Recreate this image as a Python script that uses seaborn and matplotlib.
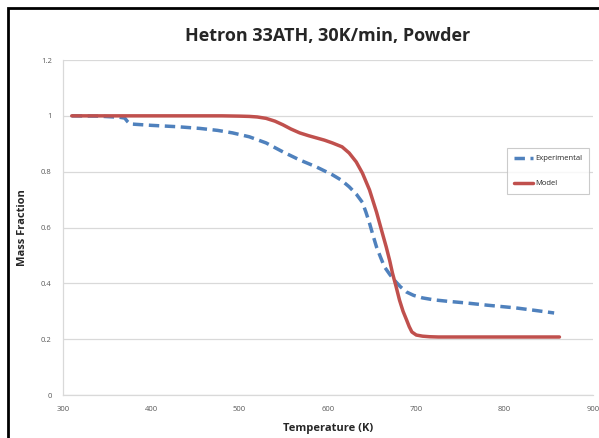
import pandas as pd
import numpy as np
import seaborn as sns
import matplotlib.pyplot as plt
from matplotlib.patches import Rectangle
from matplotlib.ticker import FuncFormatter

# values
exp_temp = [310, 340, 364, 370, 373, 376, 400, 430, 455, 475, 492, 511, 530, 549, 568,
            587, 605, 615, 624, 632, 639, 643, 647, 651, 655, 660, 664, 670, 675, 682,
            689, 697, 707, 720, 735, 749, 756, 780, 813, 835, 856]
exp_mass = [1.0, 0.999, 0.995, 0.992, 0.98, 0.971, 0.966, 0.961, 0.955, 0.948, 0.939,
            0.925, 0.903, 0.871, 0.842, 0.817, 0.789, 0.77, 0.746, 0.72, 0.69, 0.655,
            0.616, 0.572, 0.53, 0.49, 0.459, 0.432, 0.412, 0.388, 0.369, 0.357, 0.348,
            0.341, 0.336, 0.332, 0.33, 0.322, 0.312, 0.303, 0.294]

model_temp = [310, 400, 480, 500, 511, 520, 530, 540, 549, 558, 568, 578, 587, 596,
              605, 616, 624, 632, 639, 647, 655, 662, 666, 670, 673, 677, 681, 685,
              689, 692, 695, 700, 707, 715, 725, 800, 862]
model_mass = [1.0, 1.0, 1.0, 0.999, 0.998, 0.996, 0.991, 0.981, 0.968, 0.953, 0.939,
              0.929, 0.921, 0.913, 0.903, 0.889, 0.867, 0.835, 0.795, 0.735, 0.655,
              0.575, 0.53, 0.48, 0.437, 0.39, 0.34, 0.30, 0.269, 0.245, 0.226, 0.215,
              0.211, 0.209, 0.208, 0.208, 0.208]

df_exp = pd.DataFrame({'Temperature': exp_temp, 'Mass': exp_mass})
df_mod = pd.DataFrame({'Temperature': model_temp, 'Mass': model_mass})

sns.set_style("white")
plt.rcParams['font.family'] = ['Open Sans', 'DejaVu Sans']

fig = plt.figure(figsize=(5.99, 4.38), dpi=100)
ax = fig.add_axes([0.105, 0.098, 0.885, 0.765])

sns.lineplot(data=df_exp, x='Temperature', y='Mass', ax=ax, color='#4F81BD',
             linewidth=2.5, linestyle=(0, (3, 1.6)), label='Experimental', sort=False)
sns.lineplot(data=df_mod, x='Temperature', y='Mass', ax=ax, color='#C0504D',
             linewidth=2.5, label='Model', sort=False)

ax.set_xlim(300, 900)
ax.set_ylim(0, 1.2)
ax.set_xticks(np.arange(300, 901, 100))
ax.set_yticks(np.arange(0, 1.21, 0.2))
ax.yaxis.set_major_formatter(FuncFormatter(lambda v, p: f"{v:g}"))
ax.tick_params(axis='both', labelsize=5.5, colors='#595959', length=0, pad=8)
ax.yaxis.grid(True, color='#D9D9D9', linewidth=0.9)
for s in ['top', 'right']:
    ax.spines[s].set_visible(False)
for s in ['left', 'bottom']:
    ax.spines[s].set_color('#D9D9D9')
    ax.spines[s].set_linewidth(0.9)

ax.set_xlabel('Temperature (K)', fontsize=8, fontweight='bold', labelpad=7)
ax.set_ylabel('Mass Fraction', fontsize=8, fontweight='bold', labelpad=9)
ax.set_title('Hetron 33ATH, 30K/min, Powder', fontsize=13, fontweight='bold', pad=14)

leg = ax.legend(loc='center left', bbox_to_anchor=(0.83, 0.668), fontsize=5.5,
                frameon=True, fancybox=False, edgecolor='#BFBFBF',
                handlelength=2.6, labelspacing=2.3, borderpad=0.9, handletextpad=0.2)
leg.get_frame().set_linewidth(0.8)

# outer border of the chart area
fig.patches.append(Rectangle((8 / 599, -0.1), 1.2, 1.1 - 8 / 438,
                             transform=fig.transFigure, fill=False,
                             edgecolor='black', linewidth=2))

fig.savefig('out.png', dpi=100)
